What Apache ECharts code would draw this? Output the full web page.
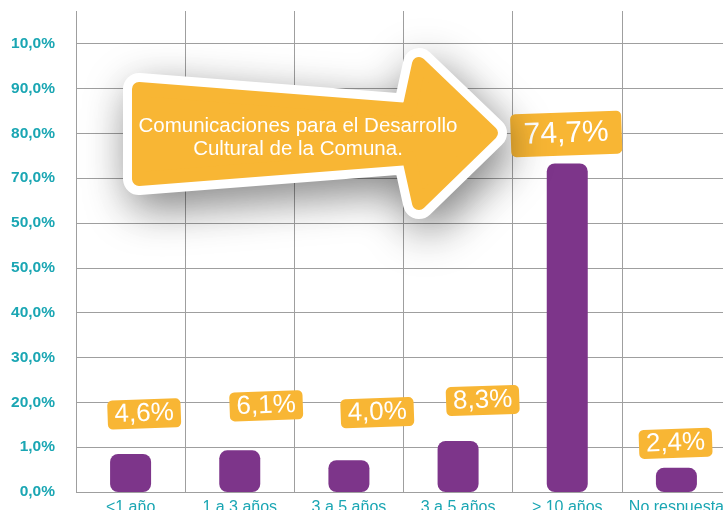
<!DOCTYPE html>
<html lang="es">
<head>
    <meta charset="UTF-8">
    <title>Comunicaciones</title>
    <style type="text/css">
        html, body { margin: 0; padding: 0; background: #fff; }
        #chart { width: 723px; height: 510px; }
    </style>
    <script src="https://cdn.jsdelivr.net/npm/echarts@6/dist/echarts.min.js"></script>
</head>
<body>
<div id="chart"></div>
<script type="application/javascript">
    // data
    var categories = ['<1 año', '1 a 3 años', '3 a 5 años', '3 a 5 años', '> 10 años', 'No respuesta'];
    var barValues = [8.5, 9.3, 7.1, 11.4, 73.3, 5.4];
    var barLabels = ['4,6%', '6,1%', '4,0%', '8,3%', '74,7%', '2,4%'];
    var yTickLabels = ['0,0%', '1,0%', '20,0%', '30,0%', '40,0%', '50,0%', '50,0%', '70,0%', '80,0%', '90,0%', '10,0%'];
    var arrowText = 'Comunicaciones para el Desarrollo\nCultural de la Comuna.';

    // label nudges (layout only)
    var labelShift = [[15, -25], [28, -29], [30, -32], [26, -25], [0, -8], [0, -10]];

    var orange = '#F8B634';
    var purple = '#7D358A';
    var teal = '#1AA6B3';
    var font = '"Liberation Sans", Arial, sans-serif';

    var barData = barValues.map(function (v, i) {
        var big = v > 50;
        return {
            value: v,
            label: {
                formatter: barLabels[i],
                offset: labelShift[i],
                fontSize: big ? 30 : 26,
                lineHeight: big ? 33 : 27,
                padding: big ? [5, 13] : [1, 7]
            }
        };
    });

    var chart = echarts.init(document.getElementById('chart'));
    chart.setOption({
        animation: false,
        backgroundColor: '#fff',
        grid: [
            { left: 76, right: -8, top: 43.7, bottom: 18, outerBoundsMode: 'none', containLabel: false },
            { left: 76, right: -8, top: 11, bottom: 18, outerBoundsMode: 'none', containLabel: false }
        ],
        xAxis: [{
            type: 'category',
            gridIndex: 0,
            data: categories,
            axisLine: { show: false },
            axisTick: { show: false },
            splitLine: { show: false },
            axisLabel: {
                color: teal, fontSize: 16, fontFamily: font,
                margin: 8, verticalAlign: 'top', interval: 0
            }
        }, {
            type: 'category',
            gridIndex: 1,
            data: categories,
            axisLine: { show: false },
            axisTick: { show: false },
            axisLabel: { show: false },
            splitLine: { show: true, lineStyle: { color: '#9f9f9f', width: 1 } }
        }],
        yAxis: [{
            type: 'value',
            gridIndex: 0,
            min: 0,
            max: 100,
            interval: 10,
            axisLine: { show: false },
            axisTick: { show: false },
            splitLine: { lineStyle: { color: '#9f9f9f', width: 1 } },
            axisLabel: {
                color: teal, fontSize: 15.5, fontWeight: 'bold', fontFamily: font, margin: 21,
                formatter: function (v) { return yTickLabels[Math.round(v / 10)]; }
            }
        }, {
            type: 'value',
            gridIndex: 1,
            show: false
        }],
        series: [{
            type: 'bar',
            xAxisIndex: 0,
            yAxisIndex: 0,
            data: barData,
            barWidth: 41,
            itemStyle: { color: purple, borderRadius: 8 },
            label: {
                show: true,
                position: 'top',
                distance: 0,
                rotate: 2,
                color: '#fff',
                fontFamily: font,
                backgroundColor: orange,
                borderRadius: 5
            }
        }],
        graphic: [{
            type: 'polygon',
            z: 100,
            shape: {
                points: [[139, 89], [409, 110], [419, 64], [491, 133], [419, 203], [409, 158], [139, 179]]
            },
            style: {
                fill: '#fff', stroke: '#fff', lineWidth: 32, lineJoin: 'round',
                shadowBlur: 45, shadowOffsetX: 6, shadowOffsetY: 14,
                shadowColor: 'rgba(0,0,0,0.4)'
            }
        }, {
            type: 'polygon',
            z: 101,
            shape: {
                points: [[139, 89], [409, 110], [419, 64], [491, 133], [419, 203], [409, 158], [139, 179]]
            },
            style: { fill: orange, stroke: orange, lineWidth: 14, lineJoin: 'round' }
        }, {
            type: 'text',
            z: 102,
            x: 298,
            y: 138,
            style: {
                text: arrowText,
                fill: '#fff',
                font: '20.5px ' + font,
                align: 'center',
                verticalAlign: 'middle',
                lineHeight: 23
            }
        }]
    });
</script>
</body>
</html>
